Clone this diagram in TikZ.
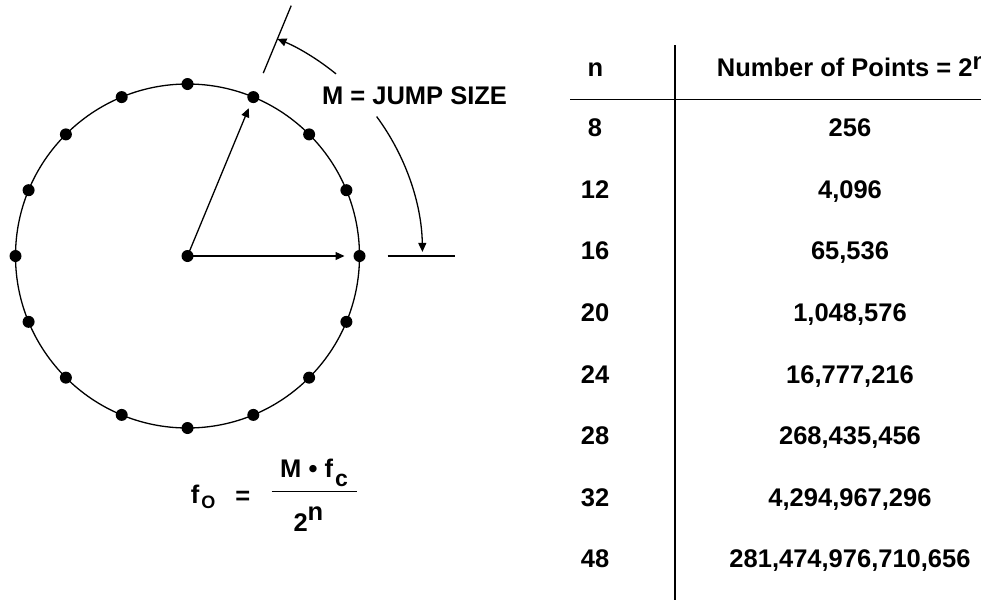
\documentclass[tikz,border=0pt]{standalone}
\usepackage{fontspec}
\setmainfont{Liberation Sans}
\usetikzlibrary{arrows.meta,calc}
\tikzset{
  dotnode/.style={circle,fill=black,inner sep=0pt,minimum size=12pt},
  ln/.style={line width=1.3pt},
  arr/.style={line width=1.3pt,-{Triangle[length=9pt,width=8pt]}},
  tbl/.style={line width=1.6pt},
  txt/.style={inner sep=0pt,font=\bfseries\fontsize{25.5}{30}\selectfont},
}
\begin{document}
\begin{tikzpicture}[x=1pt,y=-1pt]
\useasboundingbox (0,0) rectangle (981,600);
% circle with points
\coordinate (c) at (187.5,256);
\draw[ln] (c) circle[radius=172];
\node[dotnode] (center) at (c) {};
\foreach \i in {0,...,15} {
  \node[dotnode] (p\i) at ($(c)+(-22.5*\i:172)$) {};
}
\coordinate (t0) at ($(c)+(0:157)$);
\coordinate (t3) at ($(c)+(-67.5:160)$);
\draw[arr] (center.center) -- (t0);
\draw[arr] (center.center) -- (t3);
% reference lines
\coordinate (r1a) at ($(c)+(-67.5:198)$);
\coordinate (r1b) at ($(c)+(-67.5:271)$);
\draw[ln] (r1a) -- (r1b);
\coordinate (r0a) at ($(c)+(0:200.2)$);
\coordinate (r0b) at ($(c)+(0:267)$);
\draw[ln] (r0a) -- (r0b);
% jump size label and arcs
\node[txt,anchor=base] (jump) at (414.5,104) {M = JUMP SIZE};
\coordinate (a1s) at ($(c)+(-50.8:235)$);
\coordinate (a2s) at ($(c)+(-36.4:235)$);
\draw[arr] (a1s) arc[start angle=-50.8,end angle=-67.5,radius=235];
\draw[arr] (a2s) arc[start angle=-36.4,end angle=-1,radius=235];
% formula
\node[txt,anchor=base west] (fo) at (190.7,503.3) {f\hspace{2pt}\raisebox{-5pt}{\fontsize{18}{21}\selectfont O}};
\node[txt] (eq) at (242.7,498) {=};
\coordinate (b1) at (271.7,491.7);
\coordinate (b2) at (356.7,491.7);
\draw[line width=1.5pt] (b1) -- (b2);
\node[txt,anchor=base west] (num) at (280,477.3) {M • f\hspace{2pt}\raisebox{-9.4pt}{\fontsize{23}{27}\selectfont c}};
\node[txt,anchor=base west] (den) at (293.3,531.7) {2\raisebox{11.7pt}{n}};
% table
\coordinate (v1) at (675,45);
\coordinate (v2) at (675,600);
\coordinate (h1) at (570,99.3);
\coordinate (h2) at (981,99.3);
\draw[tbl] (v1) -- (v2);
\draw[tbl] (h1) -- (h2);
\node[txt,anchor=base] (hn) at (595.5,76.7) {n};
\node[txt,anchor=base west] (hp) at (716.7,76.7) {Number of Points = 2\raisebox{7pt}{\fontsize{24}{28}\selectfont n}};
\foreach \n/\v [count=\k from 0] in {8/256,12/{4,096},16/{65,536},20/{1,048,576},24/{16,777,216},28/{268,435,456},32/{4,294,967,296},48/{281,474,976,710,656}} {
  \node[txt,anchor=base] (n\k) at (595,136.7+61.6*\k) {\n};
  \node[txt,anchor=base] (v\k) at (850,136.7+61.6*\k) {\v};
}
\end{tikzpicture}
\end{document}
